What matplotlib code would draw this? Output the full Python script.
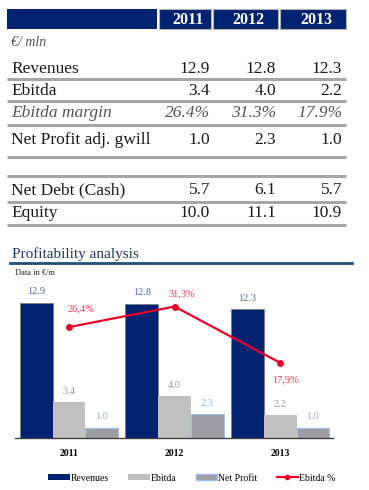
"""Key financials table plus profitability bar chart."""

import matplotlib

matplotlib.use("Agg")
import matplotlib.pyplot as plt
from matplotlib.lines import Line2D
from matplotlib.patches import Patch, Rectangle
import numpy as np

years = ["2011", "2012", "2013"]
revenues = [12.9, 12.8, 12.3]
ebitda = [3.4, 4.0, 2.2]
ebitda_margin = [26.4, 31.3, 17.9]
net_profit = [1.0, 2.3, 1.0]
net_debt = [5.7, 6.1, 5.7]
equity = [10.0, 11.1, 10.9]

NAVY = "#002270"
GREY_LINE = "#a6a6a6"
EBITDA_GREY = "#c0c0c0"
NP_GREY = "#9d9da3"
NP_EDGE = "#9cc0ea"
RED = "#e8002a"
SERIF = "Liberation Serif"

W, H, DPI = 369, 490, 100
fig = plt.figure(figsize=(W / DPI, H / DPI), dpi=DPI)
plt.rcParams["font.family"] = SERIF

# full-figure axes in pixel coordinates for the table
tab = fig.add_axes([0, 0, 1, 1])
tab.set_xlim(0, W)
tab.set_ylim(H, 0)
tab.axis("off")

# header bar
tab.add_patch(Rectangle((7, 9), 150, 20, facecolor=NAVY, edgecolor="none"))
cells = [(159, 211), (213, 278), (280, 346)]
for (x0, x1), yr in zip(cells, years):
    tab.add_patch(Rectangle((x0, 9), x1 - x0, 20, facecolor=NAVY, edgecolor="#b0b0b0", lw=0.8))
    tab.text((x0 + x1) / 2 + 3, 19.5, yr, color="white", fontsize=11.5, fontweight="bold",
             ha="center", va="center")

tab.text(11, 42, "€/ mln", fontsize=10, style="italic", color="#555555", va="center")

col_x = [210, 276, 342]
rows = [
    ("Revenues", [f"{v:.1f}" for v in revenues], 69, 79, False),
    ("Ebitda", [f"{v:.1f}" for v in ebitda], 91, 101, False),
    ("Ebitda margin", [f"{v:.1f}%" for v in ebitda_margin], 113, 125, True),
    ("Net Profit adj. gwill", [f"{v:.1f}" for v in net_profit], 140, 157, False),
    ("Net Debt (Cash)", [f"{v:.1f}" for v in net_debt], 190, 202, False),
    ("Equity", [f"{v:.1f}" for v in equity], 213, 225, False),
]
for label, vals, y, line_y, italic in rows:
    style = "italic" if italic else "normal"
    color = "#555555" if italic else "#1a1a1a"
    tab.text(11, y, label, fontsize=12.5, style=style, color=color, va="center")
    for x, v in zip(col_x, vals):
        tab.text(x, y, v, fontsize=12.5, style=style, color=color, va="center", ha="right")
    tab.plot([7, 346], [line_y, line_y], color=GREY_LINE, lw=2.2, solid_capstyle="butt")
tab.plot([7, 346], [176, 176], color=GREY_LINE, lw=2.2, solid_capstyle="butt")

# chart heading
tab.text(12, 254, "Profitability analysis", fontsize=11, color="#1f3864", va="center")
tab.plot([10, 352], [263, 263], color="#1f4e79", lw=2)
tab.text(15, 273, "Data in €/m", fontsize=6, color="#222222", va="center")

# bar chart
left, right, top, base = 15, 333, 291, 438
ax = fig.add_axes([left / W, (H - base) / H, (right - left) / W, (base - top) / H])
x = np.arange(len(years))
bw = 0.31
b1 = ax.bar(x - bw, revenues, bw, color=NAVY, edgecolor="#7f7f7f", lw=0.6)
b2 = ax.bar(x, ebitda, bw, color=EBITDA_GREY, edgecolor="none")
b3 = ax.bar(x + bw, net_profit, bw, color=NP_GREY, edgecolor=NP_EDGE, lw=0.8)
ax.set_xlim(-0.51, 2.5)
ax.set_ylim(0, 14)
for bars, vals, c in [(b1, revenues, "#4a6bb0"), (b2, ebitda, "#9a9a9a"), (b3, net_profit, "#8fb0e0")]:
    for rect, v in zip(bars, vals):
        ax.text(rect.get_x() + rect.get_width() / 2, v + 0.6, f"{v:.1f}", ha="center", va="bottom",
                fontsize=7.5, color=c)
for s in ["top", "right", "left"]:
    ax.spines[s].set_visible(False)
ax.spines["bottom"].set_color("#404040")
ax.spines["bottom"].set_linewidth(1.0)
ax.set_yticks([])
ax.set_xticks(x)
ax.set_xticklabels(years, fontsize=7, fontweight="bold")
ax.tick_params(axis="x", length=0, pad=8)

ax2 = ax.twinx()
ax2.set_ylim(0, 35)
ax2.axis("off")
ax2.plot(x, ebitda_margin, color=RED, lw=1.6, marker="o", ms=4)
offsets = [(9, 13), (5, 9), (4, -12)]
for xi, v, off in zip(x, ebitda_margin, offsets):
    ax2.annotate(f"{v:.1f}%".replace(".", ","), (xi, v), xytext=off, textcoords="offset points",
                 ha="center", va="center", fontsize=7.5, color="#ff3050")

handles = [
    Patch(facecolor=NAVY, edgecolor="none"),
    Patch(facecolor=EBITDA_GREY, edgecolor="none"),
    Patch(facecolor=NP_GREY, edgecolor=NP_EDGE),
    Line2D([0], [0], color=RED, lw=1.6, marker="o", ms=3),
]
fig.legend(handles, ["Revenues", "Ebitda", "Net Profit", "Ebitda %"], loc="center",
           bbox_to_anchor=(0.52, (H - 478) / H), ncol=4, frameon=False, fontsize=7,
           handlelength=2.2, handleheight=0.6, handletextpad=0.1, columnspacing=2.0)

fig.savefig("out.png", dpi=DPI)
